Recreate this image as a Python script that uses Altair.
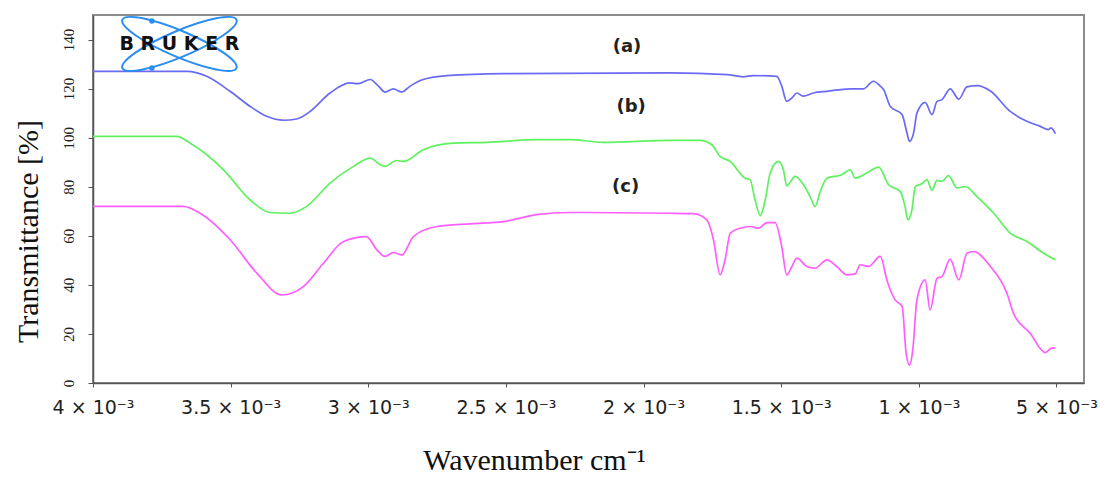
import altair as alt
import pandas as pd

# ---------------- data ----------------
wn_a = [4000, 3700, 3658, 3587, 3502, 3430, 3369, 3309, 3260, 3211, 3139, 3066, 3036, 2993, 2963,
        2939, 2909, 2878, 2848, 2801, 2715, 2510, 1903, 1697, 1638, 1602, 1516, 1498, 1480, 1461,
        1443, 1420, 1383, 1334, 1249, 1201, 1165, 1140, 1128, 1104, 1061, 1043, 1034, 1019, 1007,
        977, 952, 934, 916, 886, 855, 825, 789, 740, 668, 619, 559, 529, 520, 504]
t_a = [127, 127, 127, 125, 118.9, 112.8, 108.7, 107.1, 107.6, 110.7, 118.2, 122.3, 122, 123.7, 121,
       118.6, 119.9, 118.6, 121, 123.7, 125.3, 126.1, 126.4, 125.7, 124.8, 125.3, 125, 121, 114.8, 116.2,
       118.2, 116.9, 118.2, 118.9, 119.9, 119.9, 123, 121, 119.6, 112.8, 109.4, 101.9, 98.5, 101.9, 110,
       114.4, 109.4, 114.8, 115.5, 119.9, 115.7, 120.7, 121.2, 119, 110.7, 107.3, 104.6, 103.3, 104, 101.6]

wn_b = [4000, 3696, 3648, 3526, 3430, 3357, 3284, 3224, 3139, 3054, 2993, 2957, 2939, 2897, 2872,
        2800, 2691, 2570, 2388, 2267, 2146, 1903, 1794, 1752, 1722, 1685, 1631, 1613, 1595, 1576,
        1558, 1540, 1510, 1492, 1480, 1449, 1419, 1395, 1377, 1358, 1334, 1280, 1249, 1231, 1189,
        1146, 1110, 1068, 1050, 1040, 1025, 1013, 989, 971, 952, 934, 916, 892, 861, 831, 789,
        728, 668, 607, 547, 504]
t_b = [100.5, 100.5, 97.8, 86.9, 74.7, 69.5, 69.2, 72, 81.5, 88.3, 91.7, 89, 88.3, 90.7, 90.3,
       95.1, 97.8, 98.1, 99.2, 99.2, 98.1, 98.9, 98.9, 97.1, 92.4, 90.3, 83.5, 82.9, 74.7, 68.2,
       74.7, 85.6, 90.3, 86.9, 80.4, 84.2, 80.8, 76, 71.9, 78.1, 83.5, 84.9, 86.9, 83.5, 85.6,
       88, 80.8, 78.1, 71.9, 66.5, 70.6, 80.1, 81.2, 82.9, 78.5, 82.6, 82.2, 84.5, 79.5, 80.1, 76,
       69.2, 61.1, 57.7, 52.9, 50.2]

wn_c = [4000, 3672, 3611, 3502, 3405, 3314, 3236, 3163, 3090, 3006, 2969, 2939, 2909, 2878, 2836,
        2751, 2630, 2509, 2388, 2267, 1903, 1819, 1770, 1746, 1722, 1704, 1685, 1649, 1613, 1582,
        1552, 1522, 1498, 1480, 1461, 1443, 1407, 1377, 1334, 1298, 1261, 1231, 1213, 1183, 1140,
        1116, 1104, 1086, 1061, 1046, 1034, 1022, 1007, 977, 959, 934, 916, 886, 855, 825, 801,
        740, 680, 656, 595, 541, 517, 504]
t_c = [72, 72, 69.2, 58.4, 44.8, 35.9, 39.3, 48.8, 57.7, 59.7, 54.3, 51.6, 53.2, 52.2, 59.7,
       63.8, 64.9, 65.8, 68.6, 69.5, 69.2, 69, 66.5, 58.4, 44.1, 50.2, 61.1, 63.1, 63.8, 63.1,
       65.4, 65.4, 55.6, 44.1, 47.5, 50.9, 47.5, 46.8, 50.2, 47.5, 44.1, 44.5, 48.2, 47.5, 51.6,
       42, 38, 33.9, 31.3, 12.1, 7.3, 13.5, 33.9, 42, 29.8, 42.7, 43.4, 50.5, 42, 52.9, 53.6,
       47.5, 36.6, 28.4, 20.2, 12.4, 14.2, 14.2]

series_names = ["a", "b", "c"]
series_colors = ["#6a6af5", "#5ef25e", "#ff5eff"]

x_ticks = [4000, 3500, 3000, 2500, 2000, 1500, 1000, 500]
x_tick_labels = ["4 × 10⁻³", "3.5 × 10⁻³", "3 × 10⁻³", "2.5 × 10⁻³",
                 "2 × 10⁻³", "1.5 × 10⁻³", "1 × 10⁻³", "5 × 10⁻³"]
y_ticks = [0, 20, 40, 60, 80, 100, 120, 140]

ann_text = ["(a)", "(b)", "(c)"]
ann_wn = [2060, 2045, 2065]
ann_t = [137.1, 112.7, 80.0]

logo_wn = [3686, 3686]
logo_t = [138.2, 138.2]
logo_angle = [23, 337]
dot_wn = [3786, 3786]
dot_t = [147.6, 128.4]

# ---------------- build ----------------
rows = []
for name, wns, ts in zip(series_names, [wn_a, wn_b, wn_c], [t_a, t_b, t_c]):
    for w, v in zip(wns, ts):
        rows.append({"wn": w, "T": v, "series": name})
df = pd.DataFrame(rows)

x_scale = alt.Scale(domain=[400, 4000], reverse=True, nice=False, zero=False)
y_scale = alt.Scale(domain=[0, 150], nice=False, zero=False)

label_expr = ""
for v, l in zip(x_ticks, x_tick_labels):
    label_expr += f"datum.value == {v} ? '{l}' : "
label_expr += "''"

x_axis = alt.Axis(
    values=x_ticks, labelExpr=label_expr, labelFont="DejaVu Sans", labelFontSize=19,
    labelColor="#222", labelOverlap=False, labelFlush=False, labelPadding=11,
    tickSize=4, tickColor="#555", domainColor="#555", domainWidth=1.5, grid=False,
    title="Wavenumber cm⁻¹", titleFont="Liberation Serif", titleFontSize=30,
    titleFontWeight="normal", titleColor="#111", titleX=441, titleY=86,
    titleBaseline="alphabetic", titleAlign="center",
)
y_axis = alt.Axis(
    values=y_ticks, labelAngle=270, labelAlign="center", labelBaseline="bottom",
    labelFont="Liberation Serif", labelFontSize=15, labelColor="#222", labelPadding=12,
    tickSize=5, tickColor="#555", domainColor="#555", domainWidth=1.5, grid=False,
    title="Transmittance [%]", titleFont="Liberation Serif", titleFontSize=30,
    titleFontWeight="normal", titleColor="#111", titleAngle=270, titleX=-65, titleY=216,
    titleBaseline="middle", titleAlign="center",
)

X = alt.X("wn:Q", scale=x_scale, axis=x_axis)
Y = alt.Y("T:Q", scale=y_scale, axis=y_axis)

lines = alt.Chart(df).mark_line(strokeWidth=1.7, interpolate="monotone").encode(
    x=X, y=Y,
    color=alt.Color("series:N", scale=alt.Scale(domain=series_names, range=series_colors), legend=None),
)

ann_df = pd.DataFrame({"wn": ann_wn, "T": ann_t, "txt": ann_text})
ann = alt.Chart(ann_df).mark_text(
    font="DejaVu Sans", fontWeight="bold", fontSize=18, color="#222", baseline="middle", align="center"
).encode(x=X, y=Y, text="txt:N")

k = 0.116
b = 0.21
ellipse_path = (f"M -1 0 C -1 {-k} -0.552 {-b} 0 {-b} C 0.552 {-b} 1 {-k} 1 0 "
                f"C 1 {k} 0.552 {b} 0 {b} C -0.552 {b} -1 {k} -1 0 Z")
logo_df = pd.DataFrame({"wn": logo_wn, "T": logo_t, "ang": logo_angle})
logo_ell = alt.Chart(logo_df).mark_point(
    shape=ellipse_path, size=15376, filled=False, color="#2a8df0", strokeWidth=2, opacity=1
).encode(x=X, y=Y, angle=alt.Angle("ang:Q", scale=None))

dot_df = pd.DataFrame({"wn": dot_wn, "T": dot_t})
logo_dots = alt.Chart(dot_df).mark_point(
    shape="circle", size=30, filled=True, color="#2a8df0", opacity=1
).encode(x=X, y=Y)

logo_txt_df = pd.DataFrame({"wn": [logo_wn[0]], "T": [logo_t[0]], "txt": ["B R U K E R"]})
logo_txt = alt.Chart(logo_txt_df).mark_text(
    font="DejaVu Sans", fontWeight="bold", fontSize=19, color="#111", baseline="middle", align="center"
).encode(x=X, y=Y, text="txt:N")

chart = alt.layer(lines, logo_ell, logo_dots, logo_txt, ann).properties(
    width=991, height=368,
    autosize=alt.AutoSizeParams(type="none"),
    padding={"left": 85, "top": 7, "right": 16, "bottom": 92},
    background="white",
).configure_view(stroke="#8c8c8c", strokeWidth=2)

chart.save("out.html", embed_options={"renderer": "svg", "actions": False})
